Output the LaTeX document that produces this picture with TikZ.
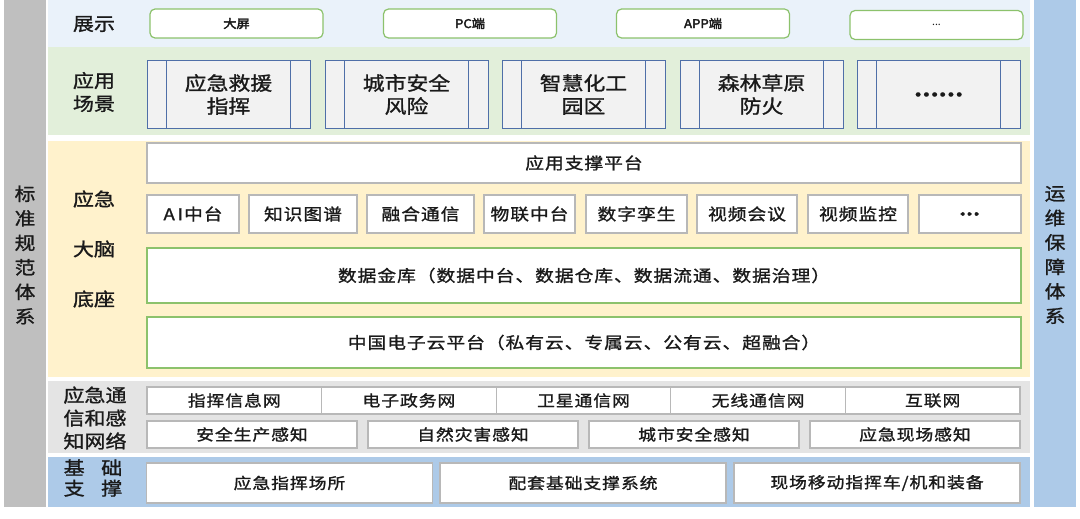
\documentclass[tikz,border=0pt]{standalone}
\usepackage{fontspec}
\setmainfont{Noto Sans CJK SC}
\newfontfamily\cjk[FakeStretch=1.15,FakeBold=1.2,LetterSpace=6]{Noto Sans CJK SC}
\newfontfamily\cjkl[FakeStretch=1.15,FakeBold=1.2]{Noto Sans CJK SC}
\newfontfamily\cjkb[FakeStretch=1.1,FakeBold=3]{Noto Sans CJK SC}
\definecolor{rowA}{HTML}{EAF2FA}
\definecolor{rowB}{HTML}{E2EFDA}
\definecolor{rowC}{HTML}{FFF2CC}
\definecolor{rowD}{HTML}{E4E4E4}
\definecolor{rowE}{HTML}{ADCAE8}
\definecolor{barGray}{HTML}{BFBFBF}
\definecolor{barBlue}{HTML}{ADCAE8}
\definecolor{lineGreen}{HTML}{8CC26C}
\definecolor{lineBlue}{HTML}{4F6FA8}
\definecolor{lineGray}{HTML}{B8B8B8}
\definecolor{sceneFill}{HTML}{F2F2F2}
\definecolor{ink}{HTML}{1A1A1A}
\begin{document}
\begin{tikzpicture}[x=1pt,y=-1pt,
  lab/.style={text=ink,font=\cjkl\fontsize{18.3}{23}\selectfont,align=center,inner sep=0pt},
  side/.style={text=ink,font=\cjkl\fontsize{18}{24.5}\selectfont,align=center,inner sep=0pt},
  dispbox/.style={draw=lineGreen,line width=1.2pt,fill=white,rounded corners=5pt,text=ink,
    font=\cjkb\fontsize{12}{14}\selectfont,inner sep=0pt,minimum height=29pt},
  scenebox/.style={draw=lineBlue,line width=1pt,fill=sceneFill,text=ink,
    font=\cjkl\fontsize{19}{23}\selectfont,align=center,inner sep=0pt,minimum width=163pt,minimum height=67pt},
  wbox/.style={draw=lineGray,line width=1.3pt,fill=white,text=ink,
    font=\cjk\fontsize{16.3}{19}\selectfont,inner sep=0pt},
  gbox/.style={draw=lineGreen,line width=1.2pt,fill=white,text=ink,
    font=\cjk\fontsize{16.3}{19}\selectfont,inner sep=0pt},
  nbox/.style={draw=lineGray,line width=1.2pt,fill=white,text=ink,
    font=\cjk\fontsize{15.5}{18}\selectfont,inner sep=0pt}
]
\useasboundingbox (0,0) rectangle (1080,519);
\fill[white] (0,0) rectangle (1080,519);
% side bars
\fill[barGray] (4,0) rectangle (46,507);
\fill[barBlue] (1034,0) rectangle (1076,507);
\node[side] (lside) at (25,255) {标\\准\\规\\范\\体\\系};
\node[side] (rside) at (1055,255) {运\\维\\保\\障\\体\\系};
% row backgrounds
\fill[rowA] (48,0) rectangle (1030,47);
\fill[rowB] (48,47) rectangle (1030,135);
\fill[rowC] (48,141) rectangle (1030,377);
\fill[rowD] (48,381) rectangle (1030,453);
\fill[rowE] (48,457) rectangle (1030,507);
% row labels
\node[lab] (l1) at (94,24) {展示};
\node[lab] (l2) at (94,92) {应用\\场景};
\node[lab] (l3a) at (94,199) {应急};
\node[lab] (l3b) at (94,249) {大脑};
\node[lab] (l3c) at (94,299) {底座};
\node[lab] (l4) at (95,418) {应急通\\信和感\\知网络};
\node[lab,font=\cjkl\fontsize{18.3}{20.5}\selectfont] (l5) at (93,478) {基\hspace{0.9em}础\\支\hspace{0.9em}撑};
% row 1
\node[dispbox,minimum width=173pt] (d1) at (236.5,23.5) {大屏};
\node[dispbox,minimum width=173pt] (d2) at (470,23.5) {PC端};
\node[dispbox,minimum width=173pt] (d3) at (703,23.5) {APP端};
\node[dispbox,minimum width=173pt,font=\fontsize{10.5}{12}\selectfont] (d4) at (936.5,25) {...};
% row 2
\foreach \n/\x/\t in {s1/228.5/{应急救援\\指挥},s2/406.5/{城市安全\\风险},s3/583.5/{智慧化工\\园区},s4/761.5/{森林草原\\防火},s5/938.5/{\textbf{……}}}{
  \node[scenebox] (\n) at (\x,94.5) {\t};
  \draw[lineBlue,line width=1pt] ([xshift=20pt]\n.north west) -- ([xshift=20pt]\n.south west);
  \draw[lineBlue,line width=1pt] ([xshift=-20pt]\n.north east) -- ([xshift=-20pt]\n.south east);
}
% row 3
\node[wbox,minimum width=874pt,minimum height=40pt] (asp) at (584,163) {应用支撑平台};
\foreach \n/\x/\w/\t in {c1/193/92/{A\,I中台},c2/303/108/知识图谱,c3/420.5/107/融合通信,c4/529.5/91/物联中台,c5/636.5/101/数字孪生,c6/747/100/视频会议,c7/858/100/视频监控,c8/970/102/\textbf{…}}{
  \node[wbox,minimum width=\w pt,minimum height=38pt] (\n) at (\x,214) {\t};
}
\node[gbox,minimum width=874pt,minimum height=55pt] (dat) at (584,275.5) {数据金库（数据中台、数据仓库、数据流通、数据治理）};
\node[gbox,minimum width=874pt,minimum height=51pt] (cld) at (584,342.5) {中国电子云平台（私有云、专属云、公有云、超融合）};
% row 4
\foreach \n/\x/\t in {n1/234.3/指挥信息网,n2/408.9/电子政务网,n3/583.5/卫星通信网,n4/758.1/无线通信网,n5/932.7/互联网}{
  \node[nbox,minimum width=174.6pt,minimum height=27pt] (\n) at (\x,400.5) {\t};
}
\foreach \n/\x/\t in {p1/252/安全生产感知,p2/473/自然灾害感知,p3/694/城市安全感知,p4/915/应急现场感知}{
  \node[nbox,minimum width=210pt,minimum height=27pt] (\n) at (\x,434.5) {\t};
}
% row 5
\foreach \n/\x/\t in {b1/289.5/{应急指挥场所},b2/583/{配套基础支撑系统},b3/877/{现场移动指挥车/机和装备}}{
  \node[nbox,minimum width=286pt,minimum height=40pt] (\n) at (\x,483) {\t};
}
\end{tikzpicture}
\end{document}
